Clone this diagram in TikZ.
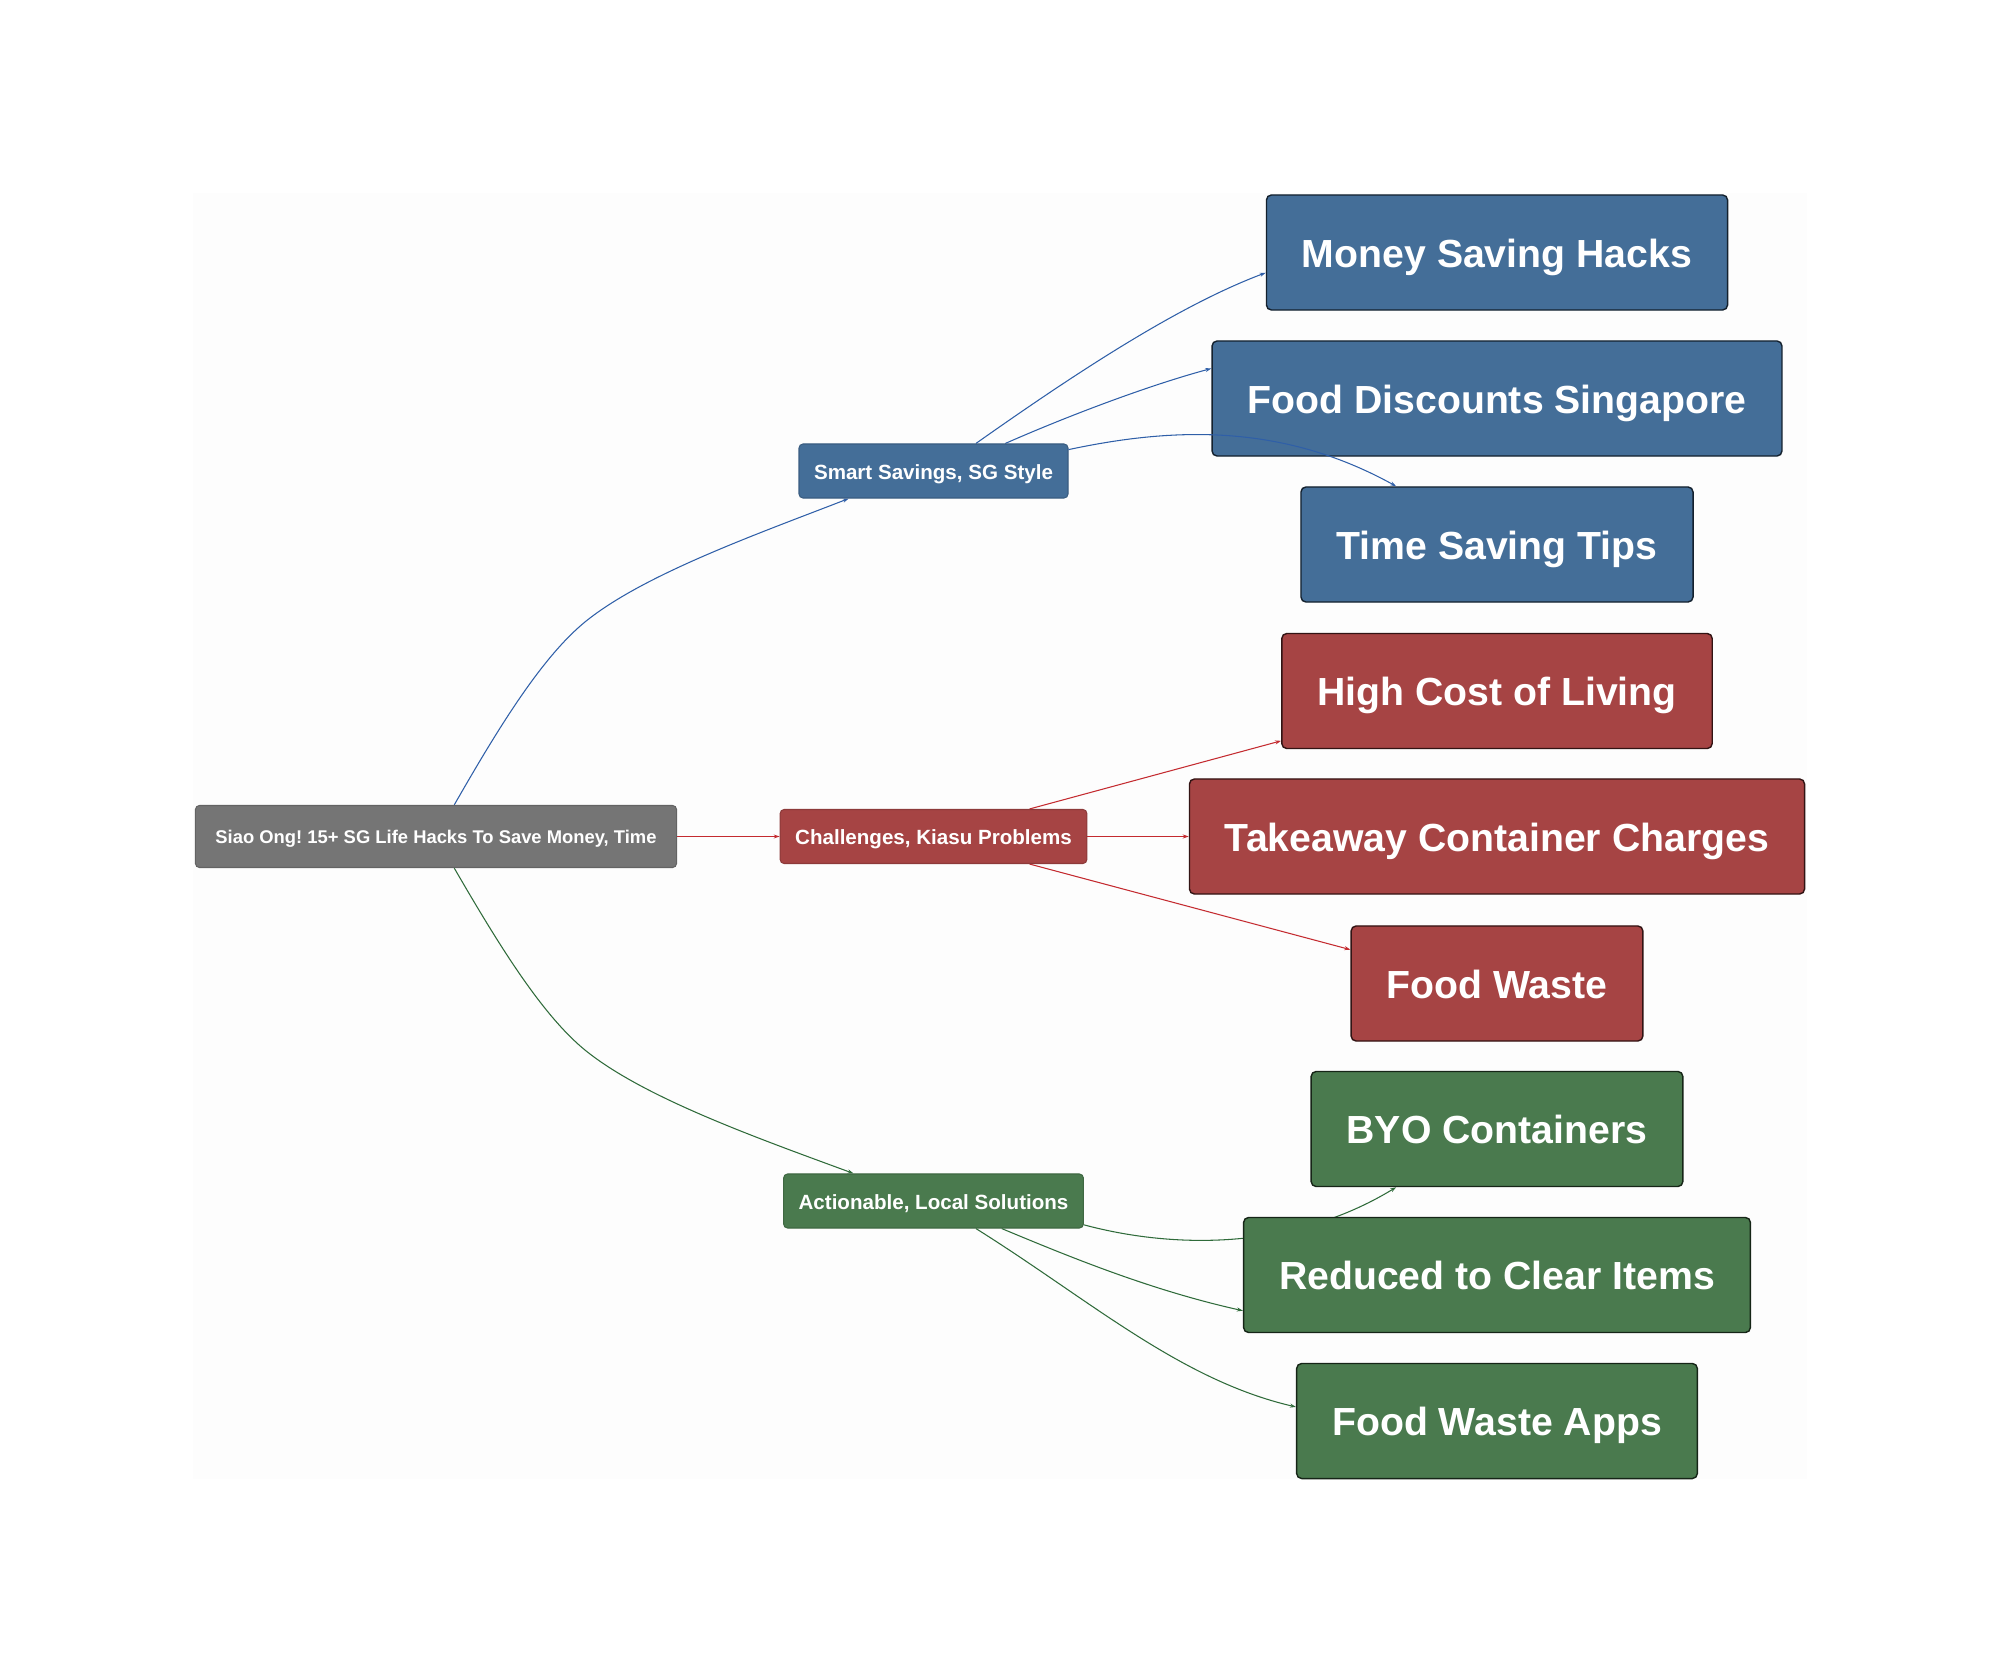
\documentclass[tikz,border=0pt]{standalone}
\usepackage{fontspec}
\setmainfont{Liberation Sans}
\usepackage{xcolor}
\usetikzlibrary{arrows.meta,backgrounds}
\definecolor{bluefill}{HTML}{446E98}
\definecolor{redfill}{HTML}{A64444}
\definecolor{greenfill}{HTML}{4A7A4E}
\definecolor{greyfill}{HTML}{757575}
\definecolor{blueline}{HTML}{2F5FA8}
\definecolor{redline}{HTML}{C42B30}
\definecolor{greenline}{HTML}{2F6B3A}
\definecolor{paper}{HTML}{FDFDFD}
\tikzset{
  topicbox/.style={rounded corners=.04cm,text=white,font=\fontsize{5.85}{7}\selectfont\bfseries,
    text height=4.55pt,text depth=0pt,inner xsep=.15cm,inner ysep=0pt,minimum height=.54cm,
    draw=#1!85!black,fill=#1,line width=.3pt},
  leafbox/.style={rounded corners=.05cm,text=white,font=\fontsize{11.15}{13}\selectfont\bfseries,
    text height=8.5pt,text depth=0pt,inner xsep=.355cm,inner ysep=0pt,minimum height=1.15cm,
    draw=#1!30!black,fill=#1,line width=.4pt},
  link/.style={draw=#1,line width=.3pt,-{Stealth[length=.06cm,width=.04cm]}}
}
\begin{document}
\frenchspacing
\begin{tikzpicture}[x=.01cm,y=-.01cm]
    \useasboundingbox (0,0) rectangle (2000,1673);
    \node[topicbox=greyfill,font=\fontsize{5.23}{7}\selectfont\bfseries,text height=4.15pt,inner xsep=.2cm,minimum height=.62cm] (root) at (436,836.5) {Siao Ong! 15+ SG Life Hacks To Save Money, Time};
    % middle column
    \node[topicbox=bluefill] (savings) at (933.5,471) {Smart Savings, SG Style};
    \node[topicbox=redfill] (problems) at (933.5,836.5) {Challenges, Kiasu Problems};
    \node[topicbox=greenfill] (solutions) at (933.5,1201) {Actionable, Local Solutions};
    % right column
    \node[leafbox=bluefill] (money) at (1497,252.5) {Money Saving Hacks};
    \node[leafbox=bluefill] (discounts) at (1497,398.5) {Food Discounts Singapore};
    \node[leafbox=bluefill] (timetips) at (1497,544.5) {Time Saving Tips};
    \node[leafbox=redfill] (cost) at (1497,691) {High Cost of Living};
    \node[leafbox=redfill] (takeaway) at (1497,836.5) {Takeaway Container Charges};
    \node[leafbox=redfill] (waste) at (1497,983.5) {Food Waste};
    \node[leafbox=greenfill] (byo) at (1497,1129) {BYO Containers};
    \node[leafbox=greenfill] (clear) at (1497,1275) {Reduced to Clear Items};
    \node[leafbox=greenfill] (apps) at (1497,1421) {Food Waste Apps};
    \begin{scope}[on background layer]
      \fill[paper] (193,193) rectangle (1807,1479);
      \draw[link=blueline] (root.60) .. controls (500,725) and (545,652) .. (590,618) .. controls (650,572) and (760,533) .. (savings.198.8);
      \draw[link=redline] (root) -- (problems);
      \draw[link=greenline] (root.-60) .. controls (500,947) and (545,1020) .. (590,1054) .. controls (650,1100) and (760,1139) .. (solutions.161.2);
      \draw[link=blueline] (savings.33) .. controls (1080,370) and (1180,305) .. (money.185.7);
      \draw[link=blueline] (savings.21.8) .. controls (1070,415) and (1150,385) .. (discounts.174.2);
      \draw[link=redline] (problems.16) -- (cost.193);
      \draw[link=redline] (problems) -- (takeaway);
      \draw[link=redline] (problems.-16) -- (waste.167.3);
      \draw[link=greenline] (solutions.-9.5) .. controls (1170,1248) and (1290,1252) .. (byo.210);
      \draw[link=greenline] (solutions.-22) .. controls (1070,1257) and (1150,1290) .. (clear.188);
      \draw[link=greenline] (solutions.-33) .. controls (1090,1300) and (1180,1380) .. (apps.176.3);
    \end{scope}
    % this one runs over the box it crosses
    \draw[link=blueline] (savings.9.3) .. controls (1170,428) and (1280,422) .. (timetips.150);
\end{tikzpicture}
\end{document}
